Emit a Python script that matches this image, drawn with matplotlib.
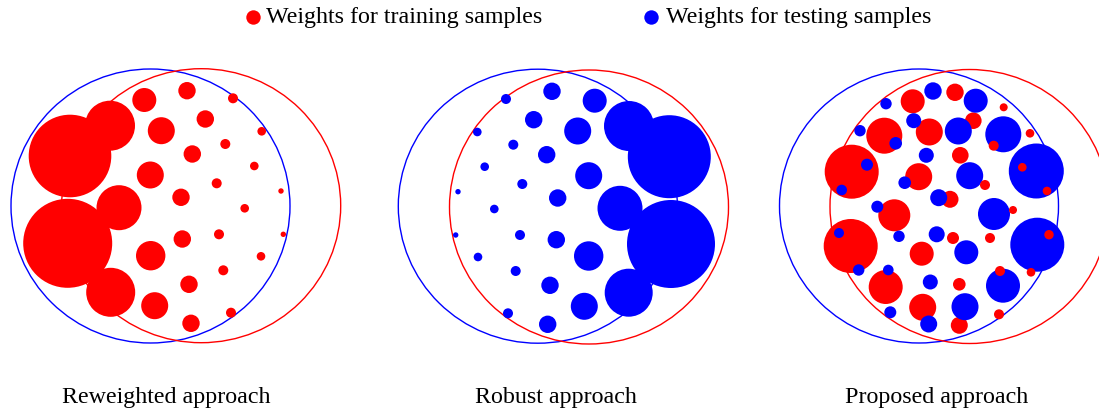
import matplotlib
matplotlib.use("Agg")
import matplotlib.pyplot as plt
from matplotlib.patches import Circle, Ellipse

RED = "#ff0000"
BLUE = "#0000ff"

# ---- data (pixel-space sample positions x, y, radius) ----
titles = ["Reweighted approach", "Robust approach", "Proposed approach"]
title_x = [166.5, 555.5, 937.0]
legend_labels = ["Weights for training samples", "Weights for testing samples"]

# domain outlines: (cx, cy, width, height) for testing (blue) and training (red) domains
test_domains = [(150.5, 206.0, 279, 274), (537.8, 206.2, 279, 274), (919.0, 206.0, 279, 274)]
train_domains = [(201.2, 205.7, 279, 274), (589.0, 207.0, 279, 274), (969.5, 206.5, 279, 274)]

reweighted_train = [
    (70.0, 156.0, 41.3), (67.7, 243.3, 44.5), (110.0, 125.7, 25.0), (119.0, 207.7, 22.5),
    (110.7, 292.3, 24.5), (144.3, 100.0, 12.0), (161.3, 130.7, 13.5), (150.3, 175.0, 13.5),
    (181.0, 197.3, 8.7), (182.3, 239.0, 8.7), (150.7, 255.7, 14.7), (154.7, 305.7, 13.5),
    (191.0, 323.3, 8.7), (189.0, 284.3, 8.7), (187.0, 90.7, 8.7), (205.3, 119.0, 8.7),
    (192.3, 154.0, 8.7), (233.0, 98.3, 5.0), (225.3, 144.0, 5.0), (216.7, 183.3, 5.0),
    (261.7, 131.3, 4.3), (254.3, 166.0, 4.3), (244.7, 208.3, 4.3), (219.0, 234.3, 5.0),
    (223.3, 270.3, 5.0), (261.0, 256.3, 4.3), (231.0, 312.7, 5.0), (281.0, 191.0, 2.7),
    (283.3, 234.3, 2.7),
]

robust_test = [
    (669.3, 156.7, 41.5), (671.0, 244.0, 44.0), (629.0, 126.0, 25.0), (620.0, 208.3, 22.5),
    (628.7, 292.7, 24.0), (594.7, 100.7, 12.0), (577.7, 131.0, 13.5), (588.7, 175.7, 13.5),
    (557.7, 198.0, 8.7), (556.3, 239.7, 8.7), (588.7, 256.0, 14.7), (584.3, 306.3, 13.5),
    (547.7, 324.3, 8.7), (550.0, 285.3, 8.7), (552.0, 91.3, 8.7), (533.7, 119.7, 8.7),
    (546.7, 154.7, 8.7), (506.0, 99.0, 5.0), (513.3, 144.7, 5.0), (522.3, 184.0, 5.0),
    (477.3, 132.0, 4.3), (484.7, 166.7, 4.3), (494.3, 209.0, 4.3), (520.0, 235.0, 5.0),
    (515.7, 271.0, 5.0), (478.0, 257.0, 4.3), (508.0, 313.3, 5.0), (458.0, 191.7, 2.7),
    (455.7, 235.0, 2.7),
]

proposed_train_inner = [
    (851.7, 171.7, 27.0), (850.7, 246.0, 27.0), (884.3, 135.7, 18.0), (894.3, 215.3, 16.0),
    (885.7, 287.0, 17.0), (912.7, 101.3, 12.0), (929.3, 132.0, 13.5), (918.7, 176.7, 13.5),
    (950.0, 199.3, 8.5), (953.0, 238.0, 6.0), (921.7, 253.7, 12.0), (922.7, 307.3, 13.5),
    (959.3, 325.3, 8.5), (959.3, 284.3, 6.3), (955.0, 92.3, 8.7), (973.3, 120.7, 8.3),
    (960.3, 155.3, 8.3),
]
proposed_test = [
    (1036.3, 171.0, 27.5), (1037.3, 244.7, 27.0), (1003.3, 134.3, 18.0), (994.0, 214.0, 16.0),
    (1003.0, 285.7, 17.0), (975.7, 100.7, 12.0), (958.3, 131.0, 13.5), (969.7, 175.7, 13.5),
    (938.7, 197.7, 8.5), (936.7, 234.3, 8.0), (966.3, 252.3, 12.0), (965.0, 306.7, 13.5),
    (928.7, 324.0, 8.5), (930.3, 282.0, 7.5), (933.0, 91.0, 8.7), (913.7, 120.7, 7.5),
    (926.3, 155.3, 7.5), (886.0, 103.7, 5.7), (895.7, 143.3, 6.3), (904.7, 182.7, 6.3),
    (860.0, 130.7, 5.7), (867.0, 164.7, 6.0), (877.3, 206.7, 6.0), (899.0, 236.3, 5.7),
    (888.3, 270.0, 5.3), (858.7, 270.0, 5.7), (890.3, 312.3, 6.0), (841.7, 190.0, 5.3),
    (839.0, 233.0, 5.0),
]
proposed_train_outer = [
    (1003.7, 107.3, 4.0), (993.7, 145.7, 5.0), (985.0, 185.0, 5.0), (1030.0, 133.3, 4.3),
    (1022.3, 167.3, 4.3), (1013.0, 210.0, 4.0), (990.0, 238.0, 5.0), (1000.0, 271.0, 5.0),
    (1031.0, 272.3, 4.3), (999.0, 314.3, 5.0), (1047.0, 191.0, 4.3), (1049.0, 234.7, 4.7),
]

# ---- drawing ----
plt.rcParams["font.family"] = ["Liberation Serif", "DejaVu Serif"]
fig = plt.figure(figsize=(10.99, 4.08), dpi=100)
ax = fig.add_axes([0, 0, 1, 1])
ax.set_xlim(0, 1099)
ax.set_ylim(408, 0)
ax.axis("off")

for (cx, cy, w, h) in test_domains:
    ax.add_patch(Ellipse((cx, cy), w, h, fill=False, edgecolor=BLUE, lw=1.0, zorder=1))
for (cx, cy, w, h) in train_domains:
    ax.add_patch(Ellipse((cx, cy), w, h, fill=False, edgecolor=RED, lw=1.0, zorder=1))


def draw(points, color):
    for (x, y, r) in points:
        ax.add_patch(Circle((x, y), r, facecolor=color, edgecolor="none", zorder=2))


draw(reweighted_train, RED)
draw(robust_test, BLUE)
draw(proposed_train_inner, RED)
draw(proposed_test, BLUE)
draw(proposed_train_outer, RED)

# legend
ax.add_patch(Circle((253.5, 17.5), 7.2, facecolor=RED, edgecolor="none"))
ax.text(266, 17.5, legend_labels[0], fontsize=17.3, va="center", ha="left")
ax.add_patch(Circle((651.5, 17.5), 7.2, facecolor=BLUE, edgecolor="none"))
ax.text(666, 17.5, legend_labels[1], fontsize=17.3, va="center", ha="left")

for t, x in zip(titles, title_x):
    ax.text(x, 398, t, fontsize=17.3, va="center", ha="center")

fig.savefig("out.png", dpi=100)
